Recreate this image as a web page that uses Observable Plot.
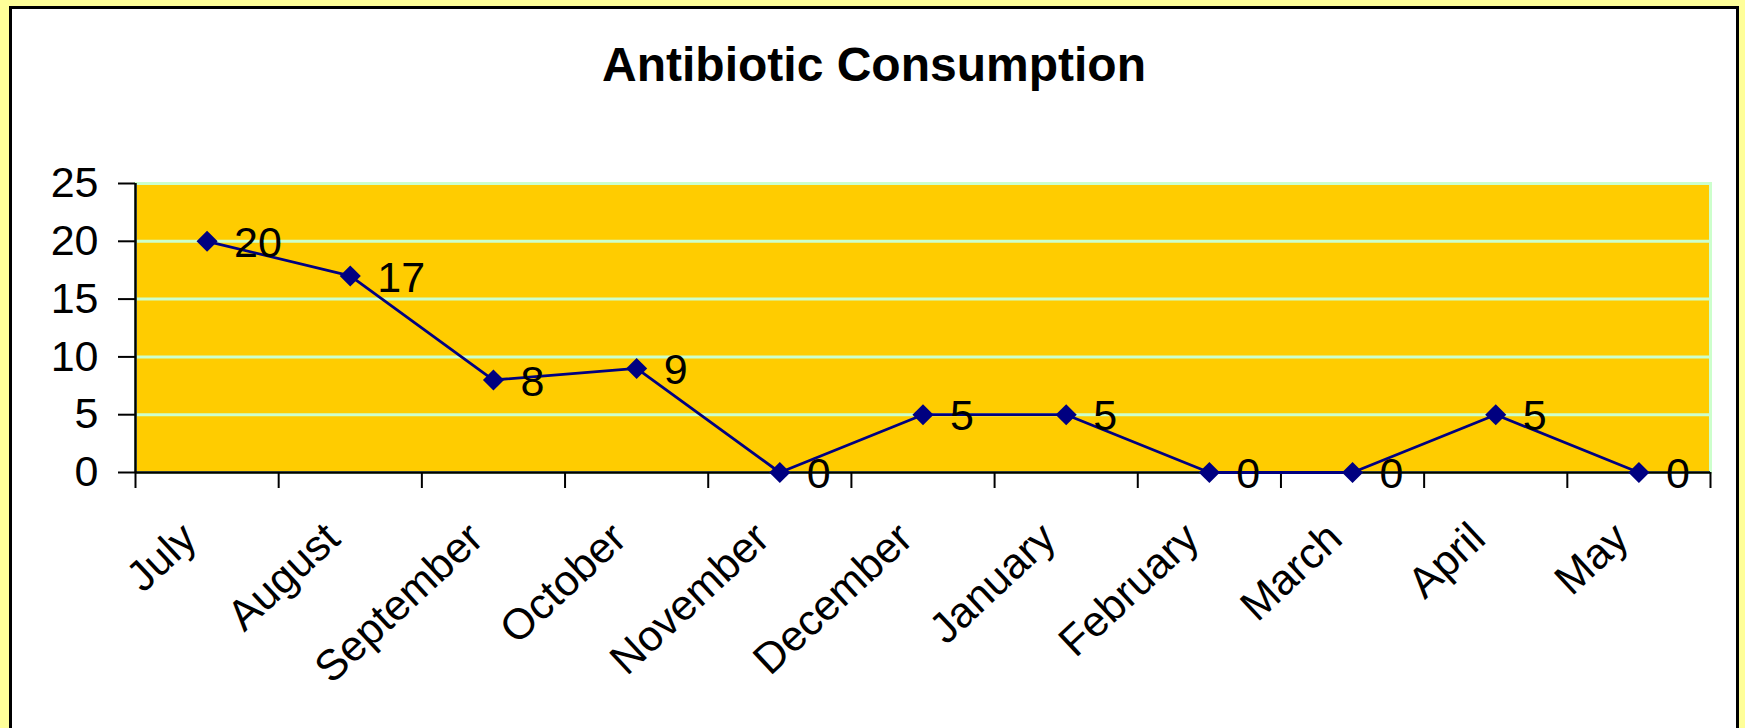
<!DOCTYPE html>
<html>
<head>
<meta charset="utf-8">
<script src="https://cdn.jsdelivr.net/npm/d3@7"></script>
<script src="https://cdn.jsdelivr.net/npm/@observablehq/plot@0.6"></script>
<style>
  html, body { margin: 0; padding: 0; width: 1745px; height: 728px; overflow: hidden; background: #FFFF99; }
  #box { position: absolute; left: 9px; top: 6px; width: 1724px; height: 760px; border: 3px solid #000; background: #fff; }
  #title { position: absolute; left: 9px; width: 1730px; top: 41px; text-align: center; font: bold 48px "Liberation Sans", Arial, sans-serif; line-height: 48px; color: #000; }
  #chart { position: absolute; left: 0; top: 110px; }
</style>
</head>
<body>
<div id="box"></div>
<div id="title">Antibiotic Consumption</div>
<div id="chart"></div>
<script>
const months = ["July", "August", "September", "October", "November", "December", "January", "February", "March", "April", "May"];
const values = [20, 17, 8, 9, 0, 5, 5, 0, 0, 5, 0];
const yTicks = [0, 5, 10, 15, 20, 25];
const gridValues = [5, 10, 15, 20, 25];

const data = months.map((m, i) => ({month: m, idx: i, value: values[i]}));
const boundaries = d3.range(months.length + 1).map(i => i - 0.5);
const font = '"Liberation Sans", Arial, sans-serif';

const chart = Plot.plot({
  width: 1745,
  height: 618,
  marginLeft: 135,
  marginRight: 35,
  marginTop: 73,
  marginBottom: 256,
  style: {background: "transparent", fontFamily: font, color: "#000", overflow: "visible"},
  x: {type: "linear", domain: [-0.5, months.length - 0.5]},
  y: {domain: [0, 25]},
  marks: [
    Plot.frame({fill: "#FFCC00", stroke: "#CCFFCC", strokeWidth: 3}),
    Plot.ruleY(gridValues, {stroke: "#CCFFCC", strokeWidth: 3}),
    Plot.axisY({ticks: yTicks, tickSize: 17, tickPadding: 20, fontSize: 43, strokeWidth: 2, label: null, tickFormat: d => String(d)}),
    Plot.axisX({ticks: boundaries, tickSize: 16, tickFormat: () => "", strokeWidth: 2, label: null}),
    Plot.ruleY([0], {stroke: "#000", strokeWidth: 2.5}),
    Plot.ruleX([-0.5], {stroke: "#000", strokeWidth: 2.5}),
    Plot.text(data, {x: "idx", y: 0, text: "month", rotate: -43, textAnchor: "end", lineAnchor: "bottom", dy: 69, dx: -8, fontSize: 43, fill: "#000"}),
    Plot.line(data, {x: "idx", y: "value", stroke: "#000080", strokeWidth: 2.8}),
    Plot.dot(data, {x: "idx", y: "value", symbol: "diamond2", r: 9.5, fill: "#000080", stroke: "none"}),
    Plot.text(data, {x: "idx", y: "value", text: d => String(d.value), textAnchor: "start", dx: 27, dy: 2, fontSize: 43, fill: "#000"})
  ]
});
document.getElementById("chart").appendChild(chart);
</script>
</body>
</html>
